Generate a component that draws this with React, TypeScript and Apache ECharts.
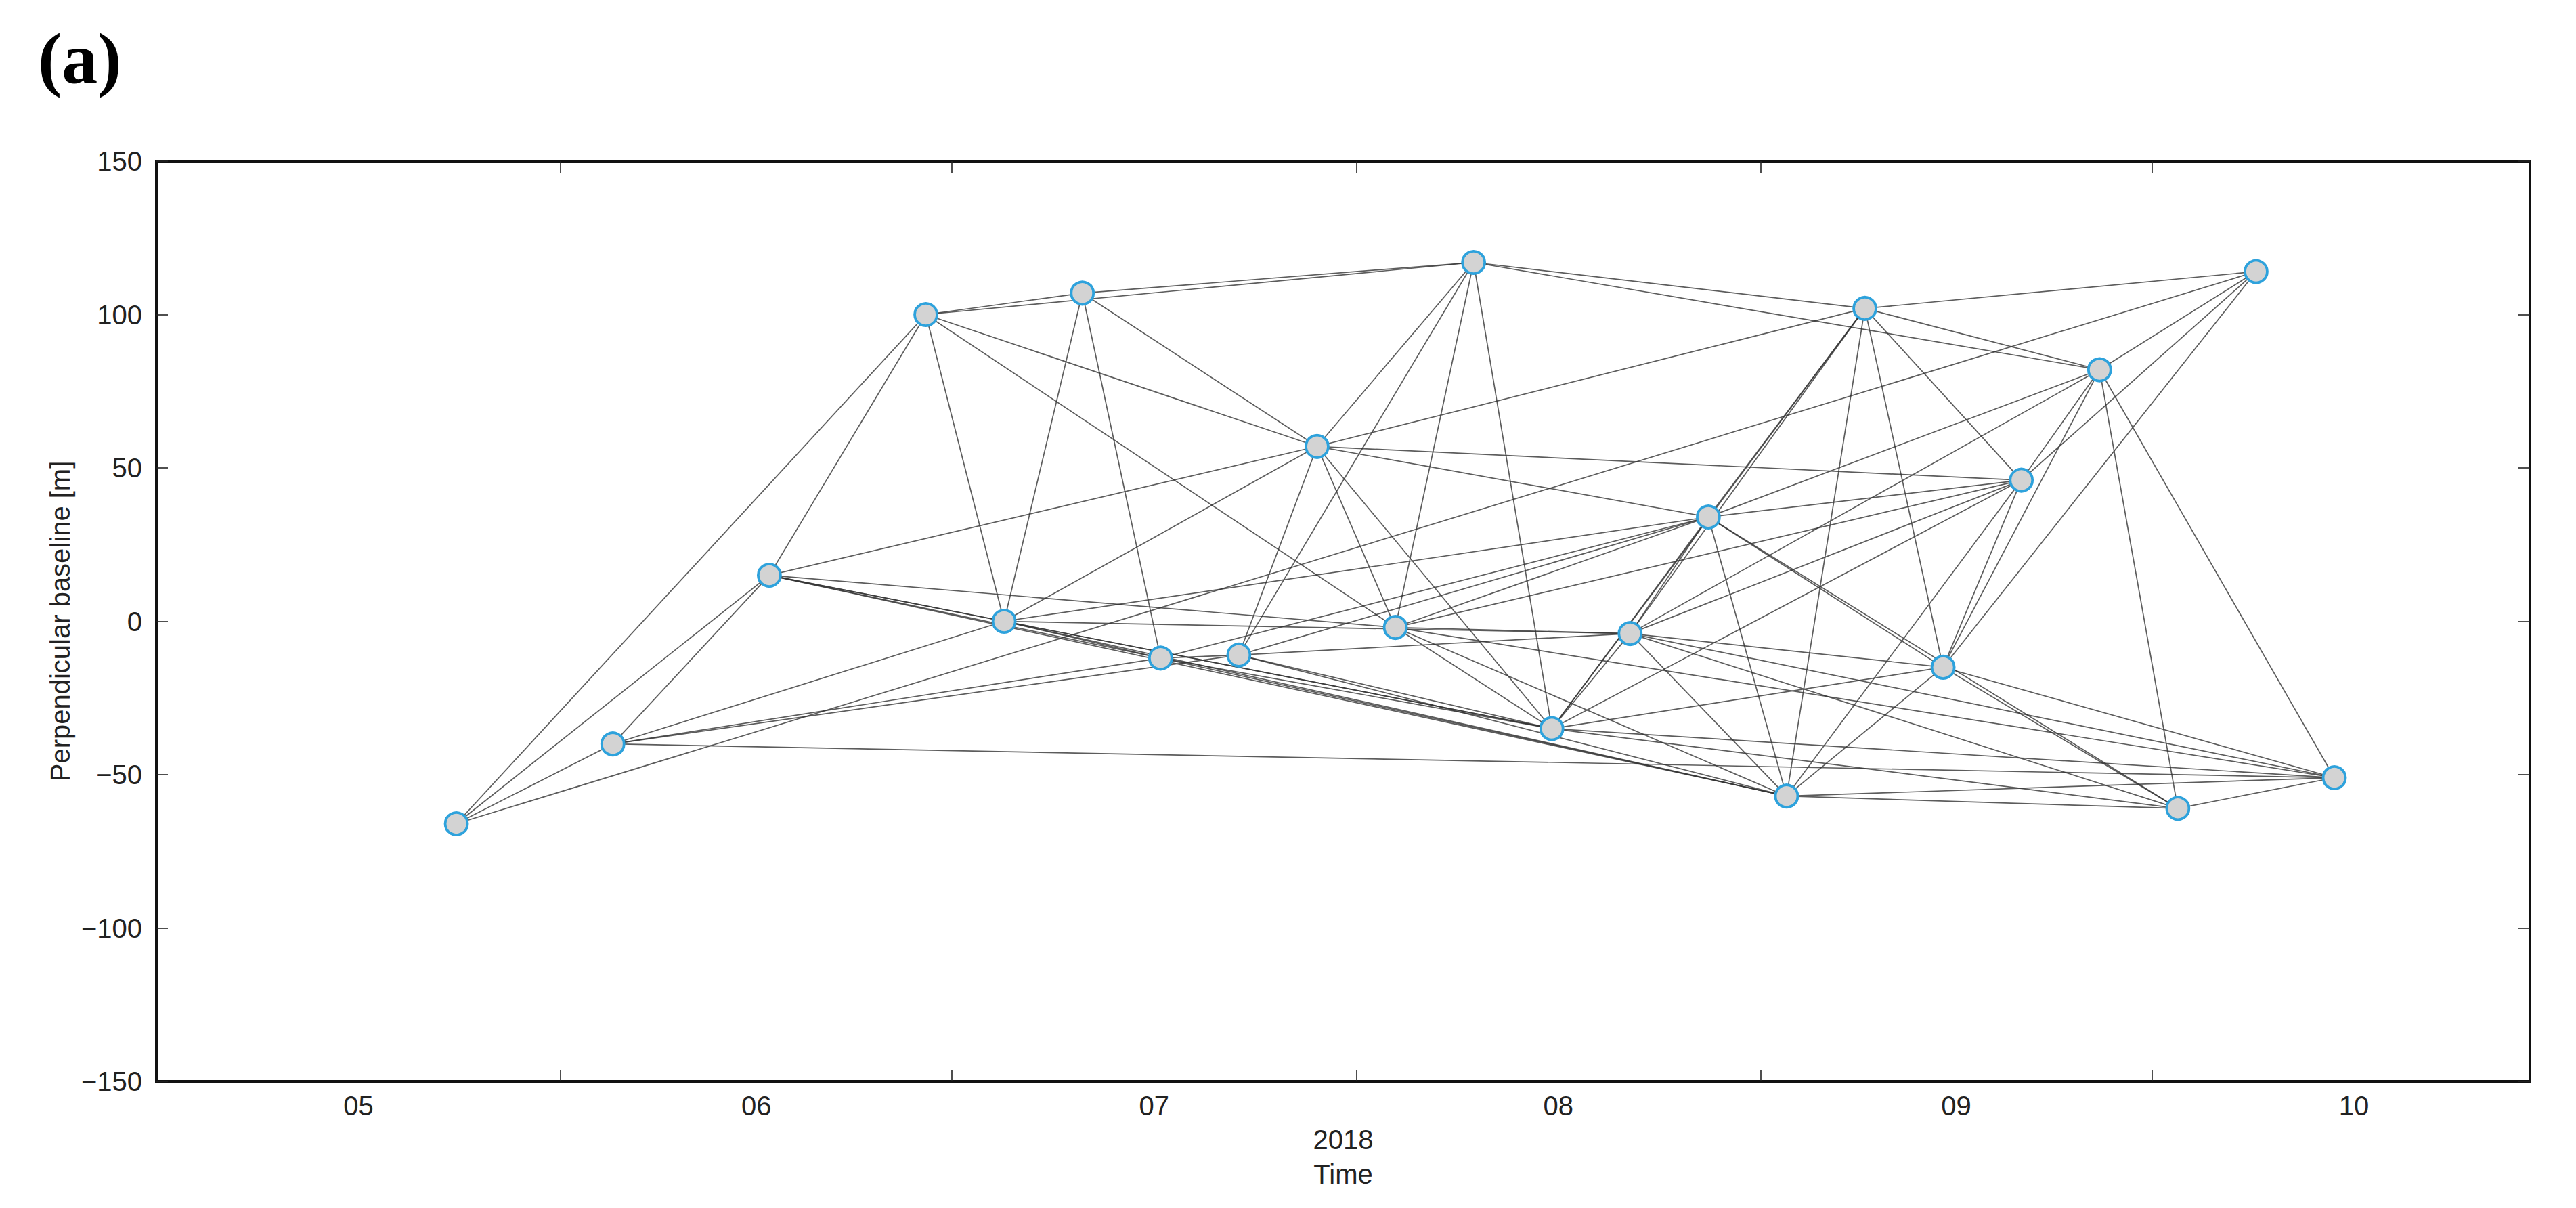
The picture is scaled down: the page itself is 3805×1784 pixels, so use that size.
import React, { useEffect, useRef } from "react";
import * as echarts from "echarts";

// Acquisition dates (Sentinel-1, 2018) and perpendicular baselines [m]
const acquisitionDates = [
  "2018-05-24", "2018-06-05", "2018-06-17", "2018-06-29", "2018-07-05", "2018-07-11",
  "2018-07-17", "2018-07-23", "2018-07-29", "2018-08-04", "2018-08-10", "2018-08-16",
  "2018-08-22", "2018-08-28", "2018-09-03", "2018-09-09", "2018-09-15", "2018-09-21",
  "2018-09-27", "2018-10-03", "2018-10-09", "2018-10-15",
];
const perpBaselines = [
  -66, -40, 15, 100, 0, 107, -12, -11, 57, -2, 117, -35, -4, 34, -57, 102, -15, 46, 82, -61, 114, -51,
];

// Interferometric pairs (1-based indices into the arrays above)
const pairs: [number, number][] = [
  [1, 2], [1, 3], [1, 4], [1, 21],
  [2, 3], [2, 5], [2, 7], [2, 8], [2, 22],
  [3, 4], [3, 5], [3, 7], [3, 9], [3, 10], [3, 12], [3, 15],
  [4, 5], [4, 6], [4, 9], [4, 10], [4, 11],
  [5, 6], [5, 7], [5, 9], [5, 12], [5, 13], [5, 14], [5, 15],
  [6, 7], [6, 9], [6, 11],
  [7, 8], [7, 12], [7, 14], [7, 15],
  [8, 9], [8, 11], [8, 12], [8, 13], [8, 14], [8, 15],
  [9, 10], [9, 11], [9, 12], [9, 14], [9, 16], [9, 18],
  [10, 11], [10, 12], [10, 13], [10, 14], [10, 15], [10, 18], [10, 22],
  [11, 12], [11, 16], [11, 19],
  [12, 13], [12, 14], [12, 16], [12, 17], [12, 18], [12, 20], [12, 22],
  [13, 14], [13, 15], [13, 16], [13, 17], [13, 18], [13, 19], [13, 20], [13, 22],
  [14, 15], [14, 16], [14, 17], [14, 18], [14, 19], [14, 20],
  [15, 16], [15, 17], [15, 18], [15, 20], [15, 22],
  [16, 17], [16, 18], [16, 19], [16, 21],
  [17, 18], [17, 19], [17, 20], [17, 21], [17, 22],
  [18, 19], [18, 21],
  [19, 20], [19, 21], [19, 22],
  [20, 22],
];

// Axis definitions
const monthStartDates = ["2018-05-01", "2018-06-01", "2018-07-01", "2018-08-01", "2018-09-01", "2018-10-01", "2018-11-01"];
const monthTickLabels = ["05", "06", "07", "08", "09", "10"];
const xRange = ["2018-05-01", "2018-10-30"];
const yMin = -150;
const yMax = 150;
const yInterval = 50;

const FONT = "'Liberation Sans', Arial, Helvetica, sans-serif";
const DAY = 86400000;
const ORIGIN = Date.parse(xRange[0] + "T00:00:00Z");
// days since the start of the time axis
const toDay = (s: string) => (Date.parse(s + "T00:00:00Z") - ORIGIN) / DAY;

export default function App() {
  const ref = useRef<HTMLDivElement>(null);

  useEffect(() => {
    if (!ref.current) return;
    const chart = echarts.init(ref.current, null, { renderer: "svg" });

    const pts = acquisitionDates.map((d, i) => [toDay(d), perpBaselines[i]]);
    const starts = monthStartDates.map(toDay);
    const innerTicks = starts.slice(1, -1);
    const centers = starts.slice(0, -1).map((s, i) => (s + starts[i + 1]) / 2);
    const labelFor = (v: number) => {
      let best = 0;
      let bd = Infinity;
      centers.forEach((c, i) => {
        const d = Math.abs(c - v);
        if (d < bd) { bd = d; best = i; }
      });
      return monthTickLabels[best];
    };

    const tickStyle = { color: "#222", width: 1.6 };
    const xMin = toDay(xRange[0]);
    const xMax = toDay(xRange[1]);

    chart.setOption({
      animation: false,
      backgroundColor: "#ffffff",
      grid: {
        left: 231,
        right: 68,
        top: 238,
        bottom: 187,
        show: true,
        borderColor: "#111",
        borderWidth: 4,
        containLabel: false,
      },
      graphic: [
        {
          type: "text",
          left: 56,
          top: 33,
          style: {
            text: "(a)",
            font: "bold 106px 'Liberation Serif', 'Times New Roman', serif",
            fill: "#000",
          },
        },
      ],
      xAxis: [
        {
          type: "value",
          position: "bottom",
          min: xMin,
          max: xMax,
          axisLine: { show: false, onZero: false },
          splitLine: { show: false },
          axisTick: { show: true, inside: true, length: 17, lineStyle: tickStyle, customValues: innerTicks },
          axisLabel: {
            show: true,
            customValues: centers,
            formatter: (v: number) => labelFor(v),
            margin: 16,
            fontSize: 40,
            fontFamily: FONT,
            color: "#222",
          },
          name: "2018\nTime",
          nameLocation: "middle",
          nameGap: 37,
          nameTextStyle: { fontSize: 40, lineHeight: 51, fontFamily: FONT, color: "#222" },
        },
        {
          type: "value",
          position: "top",
          min: xMin,
          max: xMax,
          axisLine: { show: false, onZero: false },
          splitLine: { show: false },
          axisTick: { show: true, inside: true, length: 17, lineStyle: tickStyle, customValues: innerTicks },
          axisLabel: { show: false },
        },
      ],
      yAxis: [
        {
          type: "value",
          position: "left",
          min: yMin,
          max: yMax,
          interval: yInterval,
          axisLine: { show: false, onZero: false },
          splitLine: { show: false },
          axisTick: { show: true, inside: true, length: 17, lineStyle: tickStyle },
          axisLabel: {
            formatter: (v: number) => String(v).replace("-", "\u2212"),
            margin: 21,
            fontSize: 40,
            fontFamily: FONT,
            color: "#222",
          },
          name: "Perpendicular baseline [m]",
          nameLocation: "middle",
          nameRotate: 90,
          nameGap: 120,
          nameTextStyle: { fontSize: 40, fontFamily: FONT, color: "#222" },
        },
        {
          type: "value",
          position: "right",
          min: yMin,
          max: yMax,
          interval: yInterval,
          axisLine: { show: false, onZero: false },
          splitLine: { show: false },
          axisTick: { show: true, inside: true, length: 17, lineStyle: tickStyle },
          axisLabel: { show: false },
        },
      ],
      series: [
        {
          type: "lines",
          coordinateSystem: "cartesian2d",
          xAxisIndex: 0,
          yAxisIndex: 0,
          silent: true,
          z: 2,
          lineStyle: { color: "#333333", width: 1.7, opacity: 0.8 },
          data: pairs.map(([a, b]) => ({ coords: [pts[a - 1], pts[b - 1]] })),
        },
        {
          type: "scatter",
          xAxisIndex: 0,
          yAxisIndex: 0,
          z: 3,
          symbol: "circle",
          symbolSize: 33,
          itemStyle: { color: "#d3d3d3", borderColor: "#2ea2dc", borderWidth: 3.8, opacity: 1 },
          data: pts,
        },
      ],
    });

    return () => chart.dispose();
  }, []);

  return (
    <div
      ref={ref}
      style={{ position: "fixed", left: 0, top: 0, width: 3805, height: 1784, background: "#fff" }}
    />
  );
}
